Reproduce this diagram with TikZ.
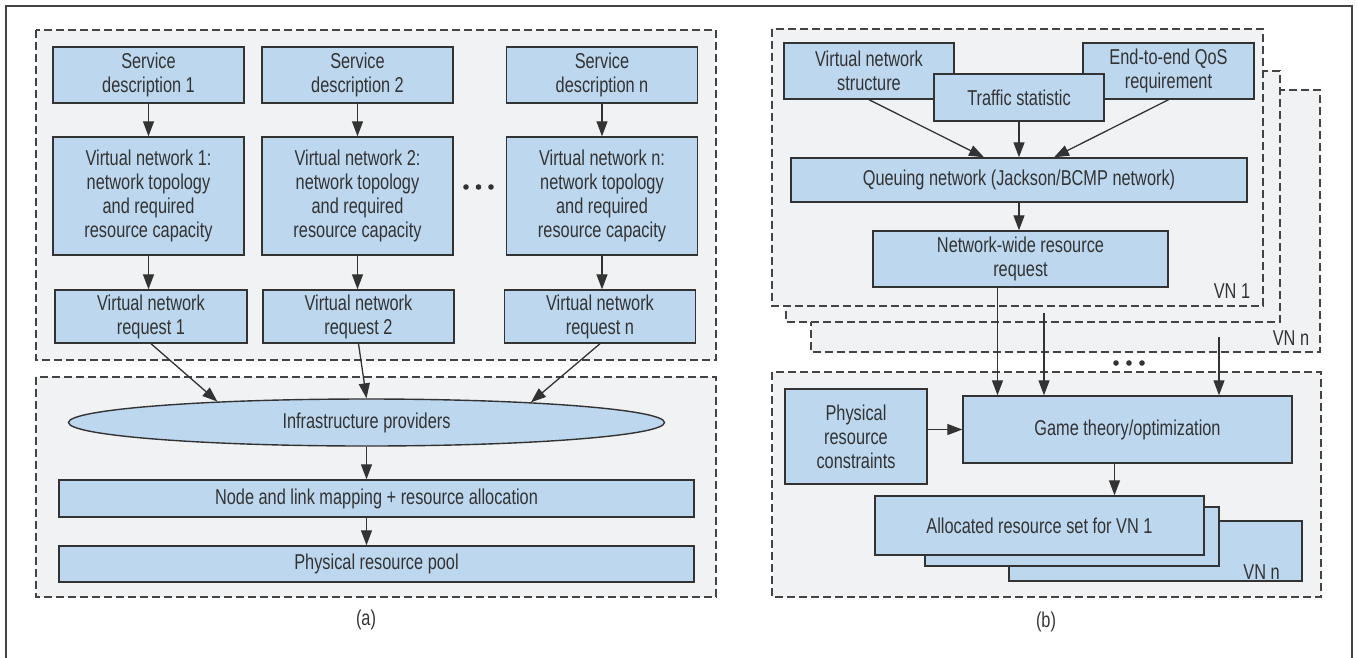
\documentclass[tikz,border=0pt]{standalone}
\usepackage{fontspec}
\setmainfont{Liberation Sans}[FakeStretch=0.76]
\usetikzlibrary{shapes.geometric,arrows.meta}
\definecolor{boxblue}{HTML}{BDD7EE}
\definecolor{boxline}{HTML}{333333}
\definecolor{grpfill}{HTML}{F1F2F4}
\definecolor{grpline}{HTML}{444444}
\definecolor{txt}{HTML}{333333}
\begin{document}
\begin{tikzpicture}[x=1pt,y=-1pt,
  box/.style={draw=boxline, fill=boxblue, line width=1.4pt, align=center, inner sep=0pt,
    font=\fontsize{21.5}{24}\selectfont, text=txt},
  lbl/.style={font=\fontsize{21.5}{24}\selectfont, text=txt, inner sep=0pt},
  grp/.style={draw=grpline, fill=grpfill, dash pattern=on 8pt off 4pt, line width=1.3pt},
  arr/.style={-{Triangle[length=15pt,width=11pt]}, line width=1.3pt, draw=boxline},
  dot/.style={fill=txt}]
\useasboundingbox (0,0) rectangle (1358,657);
% outer border
\draw[grpline, line width=1.3pt] (6,660) -- (6,6) -- (1352,6) -- (1352,660);

%%%%%%%%%%%%%%%% (a)
\draw[grp] (36,30) rectangle (716,360);
\draw[grp] (36,377) rectangle (716,597);

\node[box, minimum width=191pt, minimum height=56pt] (sd1) at (148.5,75) {Service\\description 1};
\node[box, minimum width=191pt, minimum height=56pt] (sd2) at (357.5,75) {Service\\description 2};
\node[box, minimum width=191pt, minimum height=56pt] (sdn) at (602,75) {Service\\description n};

\node[box, minimum width=191pt, minimum height=118pt] (vn1) at (148.5,196) {Virtual network 1:\\network topology\\and required\\resource capacity};
\node[box, minimum width=191pt, minimum height=118pt] (vn2) at (357.5,196) {Virtual network 2:\\network topology\\and required\\resource capacity};
\node[box, minimum width=191pt, minimum height=118pt] (vnn) at (602,196) {Virtual network n:\\network topology\\and required\\resource capacity};

\node[box, minimum width=192pt, minimum height=53pt] (vr1) at (151,316.5) {Virtual network\\request 1};
\node[box, minimum width=191pt, minimum height=53pt] (vr2) at (358.5,316.5) {Virtual network\\request 2};
\node[box, minimum width=191pt, minimum height=53pt] (vrn) at (600,316.5) {Virtual network\\request n};

\fill[dot] (466,187) circle (2.8) (478.5,187) circle (2.8) (491,187) circle (2.8);

\node[box, ellipse, minimum width=596pt, minimum height=47pt] (ip) at (366.5,422.5) {Infrastructure providers};
\node[box, minimum width=635pt, minimum height=37pt] (map) at (376.5,498.5) {Node and link mapping + resource allocation};
\node[box, minimum width=635pt, minimum height=36pt] (pool) at (376.5,564) {Physical resource pool};

\draw[arr] (sd1) -- (vn1);
\draw[arr] (sd2) -- (vn2);
\draw[arr] (sdn) -- (vnn);
\draw[arr] (vn1.south) -- (vn1.south |- vr1.north);
\draw[arr] (vn2.south) -- (vn2.south |- vr2.north);
\draw[arr] (vnn.south) -- (vnn.south |- vrn.north);
\draw[arr] (vr1.south) -- (ip.172);
\draw[arr] (vr2.south) -- (ip.north);
\draw[arr] (vrn.south) -- (ip.7);
\draw[arr] (ip.south) -- (ip.south |- map.north);
\draw[arr] (ip.south |- map.south) -- (ip.south |- pool.north);

\node[lbl] (capa) at (366,620) {(a)};

%%%%%%%%%%%%%%%% (b)
\draw[grp] (811,90) rectangle (1320,352);
\draw[grp] (786,71) rectangle (1280,322);
\draw[grp] (772,29) rectangle (1263,306);

\node[box, minimum width=170pt, minimum height=56pt] (vns) at (869,71) {Virtual network\\structure};
\node[box, minimum width=171pt, minimum height=56pt] (qos) at (1168.5,71) {End-to-end QoS\\requirement};
\node[box, minimum width=170pt, minimum height=47pt] (ts) at (1019,97.5) {Traffic statistic};
\node[box, minimum width=456pt, minimum height=44pt] (qn) at (1019,180) {Queuing network (Jackson/BCMP network)};
\node[box, minimum width=295pt, minimum height=56pt] (nw) at (1020.5,259) {Network-wide resource\\request};
\node[lbl] (vn1l) at (1232,291) {VN 1};
\node[lbl] (vnnl) at (1291,338) {VN n};

\draw[arr] (vns.south) -- ([xshift=-35pt]qn.north);
\draw[arr] (ts.south) -- (ts.south |- qn.north);
\draw[arr] (qos.south) -- ([xshift=35pt]qn.north);
\draw[arr] (qn.south) -- (qn.south |- nw.north);

\draw[grp] (772,372) rectangle (1321,597);
\fill[dot] (1116,363) circle (2.8) (1129,363) circle (2.8) (1142,363) circle (2.8);

\node[box, minimum width=142pt, minimum height=95pt] (prc) at (856,436.5) {Physical\\resource\\constraints};
\node[box, minimum width=329pt, minimum height=67pt] (gt) at (1127.5,429.5) {Game theory/optimization};

\node[box, minimum width=293pt, minimum height=60pt] (al3) at (1155.5,551) {};
\node[lbl, anchor=south east] (vnnl2) at (1280,580) {VN n};
\node[box, minimum width=294pt, minimum height=59pt] (al2) at (1072,536.5) {};
\node[box, minimum width=329pt, minimum height=59pt] (al1) at (1039.5,525.5) {Allocated resource set for VN 1};

\coordinate (f2a) at (1044,313);
\coordinate (f3a) at (1219,337);
\draw[arr] ([xshift=-23pt]nw.south) -- ([xshift=-23pt]nw.south |- gt.north);
\draw[arr] (f2a) -- (f2a |- gt.north);
\draw[arr] (f3a) -- (f3a |- gt.north);
\draw[arr] (prc.east |- gt.west) -- (gt.west);
\draw[arr] ([xshift=-13pt]gt.south) -- ([xshift=-13pt]gt.south |- al1.north);

\node[lbl] (capb) at (1046,622) {(b)};
\end{tikzpicture}
\end{document}
